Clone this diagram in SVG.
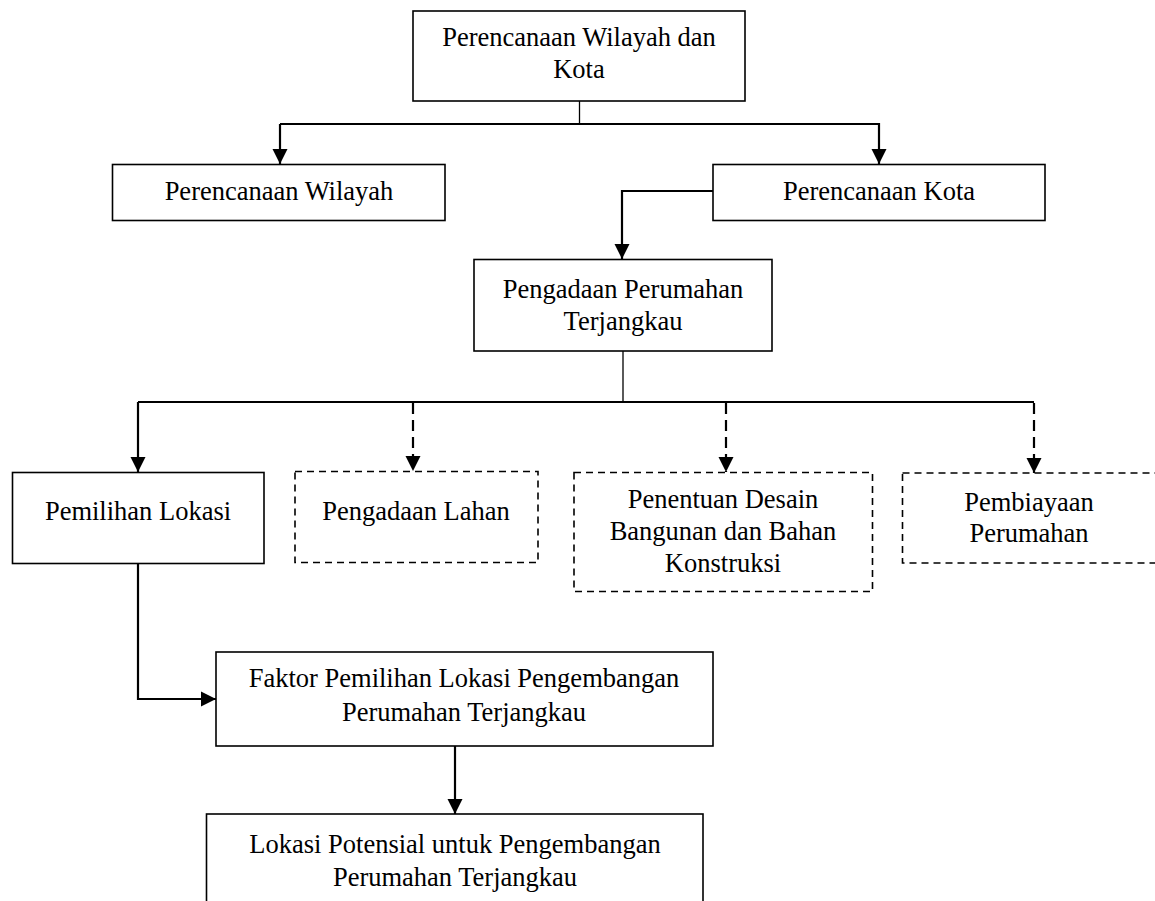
<svg xmlns="http://www.w3.org/2000/svg" width="1155" height="901" viewBox="0 0 1155 901">
<style>
.box{fill:#ffffff;stroke:#000000;stroke-width:1.6}
.dbox{fill:#ffffff;stroke:#000000;stroke-width:1.6;stroke-dasharray:7 5}
.t{font-family:"Liberation Serif","Times New Roman",serif;font-size:26.5px;fill:#000000;text-anchor:middle}
.c{fill:none;stroke:#000000;stroke-width:2.2}
.s{fill:none;stroke:#000000;stroke-width:1.3}
.dc{fill:none;stroke:#000000;stroke-width:2.2;stroke-dasharray:11 6}
</style>
<defs>
<marker id="ah" markerUnits="userSpaceOnUse" markerWidth="17" markerHeight="17" refX="15" refY="8" orient="auto" viewBox="0 0 17 17">
<path d="M0,0.5 L15,8 L0,15.5 Z" fill="#000000" stroke="none"/>
</marker>
</defs>
<rect width="1155" height="901" fill="#ffffff"/>
<g id="connectors">
<line class="s" x1="579.5" y1="101" x2="579.5" y2="124"/>
<polyline class="c" points="280,124 879,124 879,164" marker-end="url(#ah)"/>
<line class="c" x1="280" y1="124" x2="280" y2="164" marker-end="url(#ah)"/>
<polyline class="c" points="713,191 622,191 622,259" marker-end="url(#ah)"/>
<line class="s" x1="623" y1="351" x2="623" y2="402"/>
<polyline class="c" points="138,402 1034,402"/>
<line class="c" x1="138" y1="402" x2="138" y2="472" marker-end="url(#ah)"/>
<line class="dc" x1="413" y1="403" x2="413" y2="471" marker-end="url(#ah)"/>
<line class="dc" x1="726" y1="403" x2="726" y2="472" marker-end="url(#ah)"/>
<line class="dc" x1="1034" y1="403" x2="1034" y2="473" marker-end="url(#ah)"/>
<polyline class="c" points="138,564 138,699 216,699" marker-end="url(#ah)"/>
<line class="c" x1="455" y1="746" x2="455" y2="814" marker-end="url(#ah)"/>
</g>
<g id="n-top">
<rect class="box" x="413" y="11" width="332" height="90"/>
<text class="t" x="579" y="45.5">Perencanaan Wilayah dan</text>
<text class="t" x="579" y="78">Kota</text>
</g>
<g id="n-wilayah">
<rect class="box" x="112.5" y="164.5" width="332.5" height="56"/>
<text class="t" x="279" y="200">Perencanaan Wilayah</text>
</g>
<g id="n-kota">
<rect class="box" x="713" y="164.5" width="332" height="56"/>
<text class="t" x="879" y="200">Perencanaan Kota</text>
</g>
<g id="n-pengadaan">
<rect class="box" x="474" y="259.5" width="298" height="91.5"/>
<text class="t" x="623" y="298">Pengadaan Perumahan</text>
<text class="t" x="623" y="330">Terjangkau</text>
</g>
<g id="n-pemilihan">
<rect class="box" x="12.5" y="472.5" width="251.5" height="91"/>
<text class="t" x="138" y="520">Pemilihan Lokasi</text>
</g>
<g id="n-lahan">
<rect class="dbox" x="295" y="471.5" width="243" height="91"/>
<text class="t" x="416" y="520">Pengadaan Lahan</text>
</g>
<g id="n-desain">
<rect class="dbox" x="574" y="472.5" width="298.5" height="119"/>
<text class="t" x="723" y="508">Penentuan Desain</text>
<text class="t" x="723" y="540">Bangunan dan Bahan</text>
<text class="t" x="723" y="572">Konstruksi</text>
</g>
<g id="n-biaya">
<rect class="dbox" x="902.5" y="473" width="256" height="90"/>
<text class="t" x="1029" y="511">Pembiayaan</text>
<text class="t" x="1029" y="542">Perumahan</text>
</g>
<g id="n-faktor">
<rect class="box" x="216" y="652" width="497" height="94"/>
<text class="t" x="464" y="687">Faktor Pemilihan Lokasi Pengembangan</text>
<text class="t" x="464" y="721">Perumahan Terjangkau</text>
</g>
<g id="n-potensial">
<rect class="box" x="206.5" y="814" width="496.5" height="120"/>
<text class="t" x="455" y="853">Lokasi Potensial untuk Pengembangan</text>
<text class="t" x="455" y="886">Perumahan Terjangkau</text>
</g>
</svg>
